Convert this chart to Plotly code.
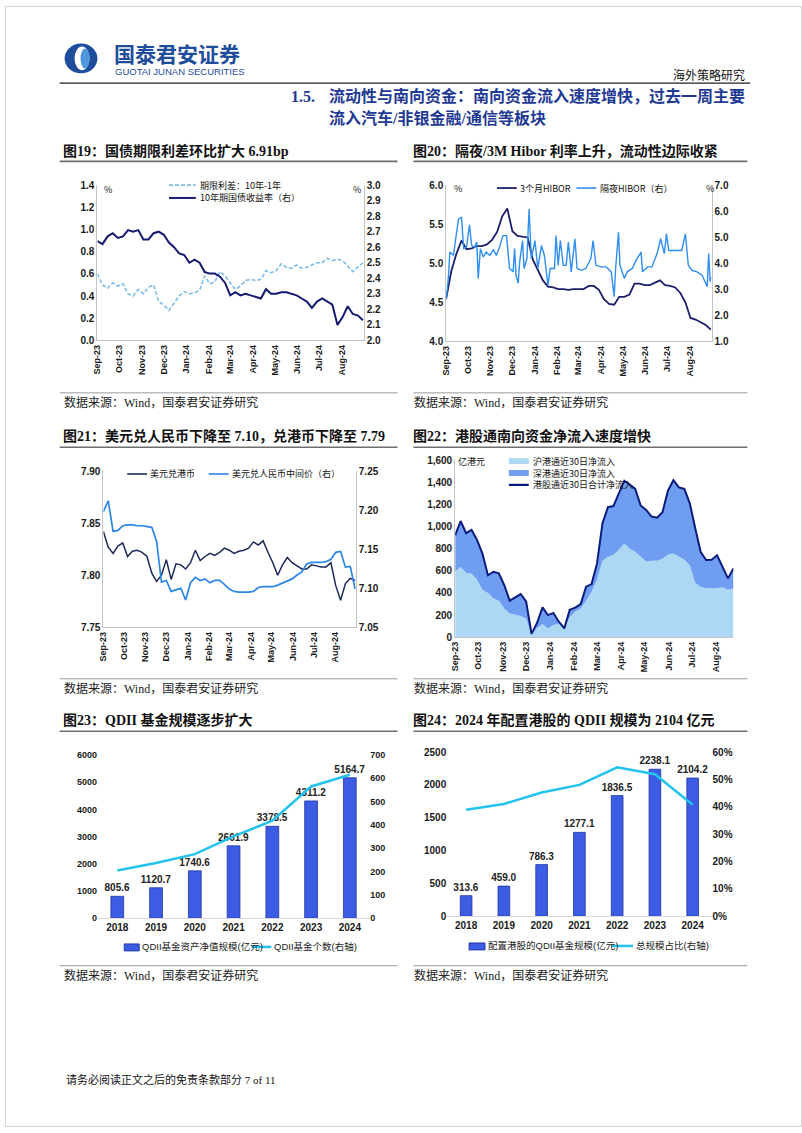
import plotly.graph_objects as go
import pandas as pd

W, H = 802, 1133

# ---------------- data ----------------
# Fig 19: term spread (left) and 10y CGB yield (right), weekly readings
c19_dates = pd.date_range("2023-09-01", periods=53, freq="7D")
c19_spread = [0.60, 0.50, 0.47, 0.52, 0.49, 0.51, 0.42, 0.40, 0.46, 0.42,
              0.48, 0.50, 0.35, 0.32, 0.27, 0.33, 0.40, 0.44, 0.42, 0.43,
              0.45, 0.58, 0.51, 0.53, 0.62, 0.58, 0.52, 0.46, 0.49, 0.54,
              0.55, 0.54, 0.55, 0.63, 0.61, 0.63, 0.69, 0.66, 0.65, 0.68,
              0.65, 0.66, 0.68, 0.70, 0.70, 0.74, 0.72, 0.73, 0.72, 0.67,
              0.62, 0.66, 0.70]
c19_yield10 = [2.64, 2.62, 2.67, 2.69, 2.66, 2.67, 2.71, 2.70, 2.71, 2.65,
               2.65, 2.69, 2.70, 2.68, 2.63, 2.60, 2.56, 2.55, 2.50, 2.52,
               2.50, 2.44, 2.43, 2.43, 2.41, 2.37, 2.29, 2.31, 2.29, 2.30,
               2.29, 2.28, 2.27, 2.33, 2.30, 2.30, 2.31, 2.31, 2.30, 2.29,
               2.27, 2.25, 2.21, 2.25, 2.27, 2.25, 2.23, 2.10, 2.15, 2.22,
               2.17, 2.16, 2.13]

# Fig 20: 3M HIBOR (left, weekly) and overnight HIBOR (right)
c20_dates = pd.date_range("2023-09-01", periods=53, freq="7D")
c20_hibor3m = [4.55, 4.90, 5.12, 5.29, 5.18, 5.19, 5.22, 5.22, 5.24, 5.30,
               5.40, 5.60, 5.70, 5.41, 5.35, 5.34, 5.33, 5.05, 4.92, 4.78,
               4.70, 4.69, 4.67, 4.67, 4.66, 4.67, 4.67, 4.67, 4.71, 4.71,
               4.66, 4.54, 4.48, 4.47, 4.57, 4.57, 4.60, 4.74, 4.74, 4.72,
               4.72, 4.75, 4.78, 4.72, 4.71, 4.69, 4.62, 4.50, 4.30, 4.28,
               4.25, 4.21, 4.15]
c20_on_dates = ["2023-09-01", "2023-09-04", "2023-09-06", "2023-09-11", "2023-09-14",
                "2023-09-18", "2023-09-22", "2023-09-25", "2023-09-29", "2023-10-03",
                "2023-10-06", "2023-10-10", "2023-10-13", "2023-10-15", "2023-10-18",
                "2023-10-22", "2023-10-26", "2023-10-31", "2023-11-05", "2023-11-09",
                "2023-11-14", "2023-11-18", "2023-11-23", "2023-11-27", "2023-12-02",
                "2023-12-04", "2023-12-06", "2023-12-09", "2023-12-11", "2023-12-15",
                "2023-12-17", "2023-12-21", "2023-12-24", "2023-12-27", "2024-01-01",
                "2024-01-05", "2024-01-10", "2024-01-14", "2024-01-19", "2024-01-22",
                "2024-01-28", "2024-01-30", "2024-02-02", "2024-02-05", "2024-02-09",
                "2024-02-13", "2024-02-16", "2024-02-20", "2024-02-25", "2024-02-28",
                "2024-03-05", "2024-03-11", "2024-03-18", "2024-03-21", "2024-03-25",
                "2024-04-01", "2024-04-08", "2024-04-15", "2024-04-19", "2024-04-21",
                "2024-04-25", "2024-04-27", "2024-05-03", "2024-05-07", "2024-05-14",
                "2024-05-19", "2024-05-26", "2024-05-28", "2024-06-04", "2024-06-10",
                "2024-06-17", "2024-06-22", "2024-06-27", "2024-06-30", "2024-07-03",
                "2024-07-12", "2024-07-21", "2024-07-26", "2024-07-30", "2024-08-04",
                "2024-08-11", "2024-08-18", "2024-08-25", "2024-08-27", "2024-08-29",
                "2024-08-30"]
c20_hibor_on = [2.60, 3.48, 4.43, 4.30, 4.94, 5.70, 5.76, 4.56, 4.62, 5.47,
                4.68, 4.62, 4.81, 3.42, 4.56, 4.24, 4.43, 4.30, 4.53, 4.30,
                4.68, 5.06, 5.06, 3.80, 3.67, 4.56, 3.54, 3.23, 4.05, 4.87,
                3.80, 4.18, 6.08, 4.18, 4.87, 3.80, 4.68, 4.30, 3.16, 3.80,
                3.80, 5.06, 3.92, 4.87, 3.92, 3.92, 4.81, 3.67, 4.94, 3.80,
                3.73, 3.80, 4.18, 4.87, 3.92, 3.86, 3.86, 3.67, 2.72, 3.80,
                5.19, 3.92, 3.42, 3.67, 3.80, 4.11, 4.43, 3.67, 3.86, 3.86,
                4.37, 4.94, 4.37, 5.13, 4.49, 4.49, 4.49, 5.13, 3.92, 3.73,
                3.67, 3.54, 3.10, 4.37, 3.29, 3.48]

# Fig 21: USD/HKD (left) and USD/CNY central parity (right), weekly
c21_dates = pd.date_range("2023-09-01", periods=53, freq="7D")
c21_usdhkd = [7.842, 7.827, 7.821, 7.828, 7.831, 7.818, 7.823, 7.824, 7.822, 7.818,
              7.802, 7.794, 7.800, 7.815, 7.796, 7.811, 7.810, 7.806, 7.812, 7.824,
              7.814, 7.818, 7.821, 7.819, 7.822, 7.826, 7.824, 7.821, 7.823, 7.824,
              7.826, 7.832, 7.829, 7.833, 7.822, 7.812, 7.800, 7.810, 7.817, 7.812,
              7.809, 7.806, 7.806, 7.810, 7.809, 7.808, 7.808, 7.812, 7.790, 7.776,
              7.792, 7.797, 7.795]
c21_usdcny = [7.198, 7.212, 7.173, 7.174, 7.180, 7.181, 7.181, 7.180, 7.180, 7.179,
              7.178, 7.160, 7.108, 7.110, 7.096, 7.098, 7.100, 7.085, 7.107, 7.114,
              7.110, 7.112, 7.107, 7.110, 7.110, 7.105, 7.099, 7.096, 7.095, 7.095,
              7.095, 7.096, 7.101, 7.102, 7.102, 7.102, 7.104, 7.107, 7.110, 7.112,
              7.117, 7.121, 7.131, 7.133, 7.133, 7.133, 7.134, 7.137, 7.146, 7.147,
              7.127, 7.128, 7.099]

# Fig 22: southbound 30-day net inflow (100m HKD), weekly
c22_dates = pd.date_range("2023-09-01", periods=52, freq="7D")
c22_sh = [592, 637, 580, 577, 520, 430, 400, 353, 330, 260,
          215, 203, 192, 170, 24, 84, 120, 80, 110, 125,
          80, 180, 230, 260, 330, 410, 520, 690, 727, 742,
          790, 846, 800, 772, 727, 685, 690, 690, 710, 745,
          757, 730, 700, 650, 490, 455, 443, 443, 445, 450,
          430, 440]
c22_total = [920, 1050, 940, 970, 880, 755, 560, 592, 577, 470,
             330, 360, 390, 323, 30, 129, 270, 200, 220, 140,
             80, 248, 268, 300, 457, 480, 667, 1030, 1175, 1185,
             1300, 1414, 1380, 1340, 1190, 1150, 1090, 1080, 1130, 1324,
             1420, 1354, 1340, 1210, 985, 770, 697, 700, 740, 640,
             532, 622]

# Fig 23 / 24
years = ["2018", "2019", "2020", "2021", "2022", "2023", "2024"]
c23_aum = [805.6, 1120.7, 1740.6, 2661.9, 3378.5, 4311.2, 5164.7]
c23_count = [205, 237, 275, 351, 418, 565, 615]
c24_hk = [313.6, 459.0, 786.3, 1277.1, 1836.5, 2238.1, 2104.2]
c24_share = [38.9, 41.0, 45.2, 48.0, 54.4, 51.9, 40.7]

# ---------------- styles ----------------
SERIF = "Liberation Serif, Noto Sans CJK SC"
CJK = "Noto Sans CJK SC"
SANS = "Liberation Sans, Noto Sans CJK SC"
NAVY = "#141b70"
LIGHT19 = "#7dbde9"
BRIGHT = "#2f8ff0"
AXC = "#c4c4c4"


def xd(l, r):
    return [l / W, r / W]


def yd(t, b):
    return [1 - b / H, 1 - t / H]


def P(x, y):
    return x / W, 1 - y / H


def tickfont(size=10):
    return dict(family=SANS, size=size, color="#1a1a1a", weight="bold")


def date_axis(l, r, anchor, start, end):
    return dict(domain=xd(l, r), anchor=anchor, type="date", range=[start, end],
                tick0="2023-09-01", dtick="M1", tickformat="%b-%y", tickangle=-90,
                tickfont=tickfont(9), showline=True, linecolor=AXC, linewidth=1,
                showgrid=False, zeroline=False, ticks="", fixedrange=True)


def val_axis(t, b, anchor, rng, dtick, fmt, side="left", overlay=None, line=True, size=10, suffix=""):
    d = dict(anchor=anchor, range=rng, dtick=dtick, tickformat=fmt, side=side,
             tickfont=tickfont(size), showline=line, linecolor=AXC, linewidth=1,
             showgrid=False, zeroline=False, ticks="", ticksuffix=suffix, fixedrange=True)
    if overlay:
        d["overlaying"] = overlay
    else:
        d["domain"] = yd(t, b)
    return d


fig = go.Figure()

# Fig 19
fig.add_trace(go.Scatter(x=c19_dates, y=c19_spread, xaxis="x", yaxis="y", mode="lines",
                         line=dict(color=LIGHT19, width=1.6, dash="4px,2px")))
fig.add_trace(go.Scatter(x=c19_dates, y=c19_yield10, xaxis="x", yaxis="y2", mode="lines",
                         line=dict(color=NAVY, width=2)))
# Fig 20
fig.add_trace(go.Scatter(x=c20_dates, y=c20_hibor3m, xaxis="x2", yaxis="y3", mode="lines",
                         line=dict(color="#1b1f6b", width=1.8)))
fig.add_trace(go.Scatter(x=pd.to_datetime(c20_on_dates), y=c20_hibor_on, xaxis="x2", yaxis="y4",
                         mode="lines", line=dict(color=BRIGHT, width=1.4)))
# Fig 21
fig.add_trace(go.Scatter(x=c21_dates, y=c21_usdhkd, xaxis="x3", yaxis="y5", mode="lines",
                         line=dict(color="#1c2a5c", width=1.5)))
fig.add_trace(go.Scatter(x=c21_dates, y=c21_usdcny, xaxis="x3", yaxis="y6", mode="lines",
                         line=dict(color="#2b86e8", width=1.7)))
# Fig 22
c22_sz = [t - s for t, s in zip(c22_total, c22_sh)]
fig.add_trace(go.Scatter(x=c22_dates, y=c22_sh, xaxis="x4", yaxis="y7", stackgroup="hk",
                         mode="none", fillcolor="#acd8f4"))
fig.add_trace(go.Scatter(x=c22_dates, y=c22_sz, xaxis="x4", yaxis="y7", stackgroup="hk",
                         mode="none", fillcolor="#6f9ef0"))
fig.add_trace(go.Scatter(x=c22_dates, y=c22_total, xaxis="x4", yaxis="y7", mode="lines",
                         line=dict(color="#0c1c7e", width=2)))
# Fig 23
BARC = "#3d5ce4"
BARL = "#2236a8"
CYAN = "#22c3ef"
LBL = dict(family=SANS, size=10, color="#222", weight="bold")
fig.add_trace(go.Bar(x=years, y=c23_aum, xaxis="x5", yaxis="y8", width=0.33,
                     marker=dict(color=BARC, line=dict(color=BARL, width=0.8)),
                     texttemplate="%{y:.1f}", textposition="outside", cliponaxis=False,
                     constraintext="none", textfont=LBL))
fig.add_trace(go.Scatter(x=years, y=c23_count, xaxis="x5", yaxis="y9", mode="lines",
                         line=dict(color=CYAN, width=2.5)))
# Fig 24
fig.add_trace(go.Bar(x=years, y=c24_hk, xaxis="x6", yaxis="y10", width=0.31,
                     marker=dict(color=BARC, line=dict(color=BARL, width=0.8)),
                     texttemplate="%{y:.1f}", textposition="outside", cliponaxis=False,
                     constraintext="none", textfont=LBL))
fig.add_trace(go.Scatter(x=years, y=c24_share, xaxis="x6", yaxis="y11", mode="lines",
                         line=dict(color=CYAN, width=2.5)))

cat_x = lambda l, r, anchor: dict(domain=xd(l, r), anchor=anchor, type="category",
                                  tickfont=tickfont(10), showline=True, linecolor="#d9d9d9",
                                  showgrid=False, zeroline=False, ticks="", fixedrange=True)

layout_axes = dict(
    xaxis=date_axis(93, 361, "y", "2023-09-01", "2024-08-31"),
    yaxis=val_axis(181, 338, "x", [0, 1.4], 0.2, ".1f"),
    yaxis2=val_axis(0, 0, "x", [2.0, 3.0], 0.1, ".1f", side="right", overlay="y"),
    xaxis2=date_axis(444, 711, "y3", "2023-09-01", "2024-08-31"),
    yaxis3=val_axis(181, 339, "x2", [4.0, 6.0], 0.5, ".1f"),
    yaxis4=val_axis(0, 0, "x2", [1.0, 7.0], 1, ".1f", side="right", overlay="y3"),
    xaxis3=date_axis(99, 353, "y5", "2023-09-01", "2024-08-31"),
    yaxis5=val_axis(470, 628, "x3", [7.75, 7.90], 0.05, ".2f"),
    yaxis6=val_axis(0, 0, "x3", [7.05, 7.25], 0.05, ".2f", side="right", overlay="y5"),
    xaxis4=date_axis(453, 733, "y7", "2023-09-01", "2024-08-23"),
    yaxis7=val_axis(459, 638, "x4", [0, 1600], 200, ","),
    xaxis5=cat_x(93.5, 366.5, "y8"),
    yaxis8=val_axis(757, 922, "x5", [0, 6000], 1000, "d", line=False, size=9),
    yaxis9=val_axis(0, 0, "x5", [0, 700], 100, "d", side="right", overlay="y8", line=False, size=9),
    xaxis6=cat_x(445, 711, "y10"),
    yaxis10=val_axis(754, 920, "x6", [0, 2500], 500, "d", line=False),
    yaxis11=val_axis(0, 0, "x6", [0, 60], 10, "d", side="right", overlay="y10", line=False, suffix="%"),
)

# ---------------- page text and decoration ----------------
ann = []
shapes = []


def txt(x, y, s, size, color="#111", family=SERIF, bold=False, xanchor="left"):
    px_, py_ = P(x, y)
    ann.append(dict(x=px_, y=py_, xref="paper", yref="paper", text=s, showarrow=False,
                    xanchor=xanchor, yanchor="middle", borderpad=0,
                    font=dict(size=size, color=color, family=family,
                              weight="bold" if bold else "normal")))


def hline(x0, x1, y, color, width, dash="solid"):
    a, b = P(x0, y)
    c, _ = P(x1, y)
    shapes.append(dict(type="line", xref="paper", yref="paper", x0=a, x1=c, y0=b, y1=b,
                       line=dict(color=color, width=width, dash=dash)))


def box(x0, y0, x1, y1, fill, kind="rect", line_color=None):
    a, b = P(x0, y0)
    c, d = P(x1, y1)
    shapes.append(dict(type=kind, xref="paper", yref="paper", x0=a, x1=c, y0=d, y1=b,
                       fillcolor=fill, line=dict(color=line_color or fill, width=0 if line_color is None else 1)))


# page border
box(0.5, 0.5, 801.5, 1132.5, "rgba(0,0,0,0)", line_color="#d6d6d6")

# logo
LOGO = "#1d4d9b"
box(60, 38, 93, 68, LOGO, kind="circle")
box(70, 41, 85, 65, "white", kind="circle")
box(76, 43, 85, 63, "#4f97dc", kind="circle")
txt(109, 47, "国泰君安证券", 21, color=LOGO, family=CJK, bold=True)
txt(110, 66, "GUOTAI JUNAN SECURITIES", 9.5, color=LOGO, family="Liberation Sans")
txt(746, 70, "海外策略研究", 12, color="#111", family=SERIF, xanchor="right")
hline(55, 750, 78, "#222", 1.3)

HEAD = "#1f3a93"
txt(287, 91, "1.5.", 16, color=HEAD, family=SERIF, bold=True)
txt(746, 91, "流动性与南向资金：南向资金流入速度增快，过去一周主要", 16, color=HEAD,
    family=SERIF, bold=True, xanchor="right")
txt(325, 113, "流入汽车/非银金融/通信等板块", 16, color=HEAD, family=SERIF, bold=True)

# titles, underlines, sources
titles = [
    (57, 147, "图19：国债期限利差环比扩大 6.91bp"),
    (410, 147, "图20：隔夜/3M Hibor 利率上升，流动性边际收紧"),
    (57, 435, "图21：美元兑人民币下降至 7.10，兑港币下降至 7.79"),
    (410, 435, "图22：港股通南向资金净流入速度增快"),
    (57, 722, "图23：QDII 基金规模逐步扩大"),
    (410, 722, "图24：2024 年配置港股的 QDII 规模为 2104 亿元"),
]
for x, y, s in titles:
    txt(x, y, s, 14, color="#111", family=SERIF, bold=True)
for y in (157, 446, 733):
    hline(55, 395, y, "#6e6e6e", 1.6)
    hline(411, 747, y, "#6e6e6e", 1.6)
for y in (391, 680, 970):
    hline(55, 395, y, "#9a9a9a", 1)
    hline(411, 747, y, "#9a9a9a", 1)
for y in (401, 690, 980):
    txt(58, y, "数据来源：Wind，国泰君安证券研究", 12, color="#222", family=SERIF)
    txt(411, y, "数据来源：Wind，国泰君安证券研究", 12, color="#222", family=SERIF)

txt(60, 1085, "请务必阅读正文之后的免责条款部分 7 of 11", 11, color="#111", family=SERIF)

# chart legends (drawn inside plots)
LEG = 9
# fig 19
hline(165, 192, 181, LIGHT19, 1.6, dash="4px,2px")
txt(195, 181, "期限利差：10年-1年", LEG, family=CJK)
hline(165, 192, 194, NAVY, 2)
txt(195, 194, "10年期国债收益率（右）", LEG, family=CJK)
txt(99, 185, "%", 9, family=CJK)
txt(349, 185, "%", 9, family=CJK)
# fig 20
hline(495, 515, 184, "#1b1f6b", 1.8)
txt(517, 184, "3个月HIBOR", LEG, family=CJK)
hline(575, 595, 184, BRIGHT, 1.6)
txt(598, 184, "隔夜HIBOR（右）", LEG, family=CJK)
txt(451, 184, "%", 9, family=CJK)
txt(704, 184, "%", 9, family=CJK)
# fig 21
hline(123, 143, 473, "#1c2a5c", 1.6)
txt(145, 473, "美元兑港币", LEG, family=CJK)
hline(205, 225, 473, "#2b86e8", 1.6)
txt(227, 473, "美元兑人民币中间价（右）", LEG, family=CJK)
# fig 22
txt(455, 460, "亿港元", LEG, family=CJK)
box(507, 457, 527, 463, "#acd8f4")
txt(530, 460, "沪港通近30日净流入", LEG, family=CJK)
box(507, 469, 527, 475, "#6f9ef0")
txt(530, 472, "深港通近30日净流入", LEG, family=CJK)
hline(507, 527, 484, "#0c1c7e", 2.2)
txt(530, 484, "港股通近30日合计净流入", LEG, family=CJK)
# fig 23
box(120, 948, 135, 955, BARC, line_color=BARL)
txt(137, 951, "QDII基金资产净值规模(亿元)", 9.5, color="#222", family=SANS)
hline(248, 268, 951, CYAN, 2.5)
txt(270, 951, "QDII基金个数(右轴)", 9.5, color="#222", family=SANS)
# fig 24
box(467, 947, 483, 954, BARC, line_color=BARL)
txt(485, 950, "配置港股的QDII基金规模(亿元)", 9.5, color="#222", family=SANS)
hline(610, 632, 950, CYAN, 2.5)
txt(634, 950, "总规模占比(右轴)", 9.5, color="#222", family=SANS)

fig.update_layout(width=W, height=H, autosize=False, margin=dict(l=0, r=0, t=0, b=0, pad=0),
                  paper_bgcolor="white", plot_bgcolor="white", showlegend=False,
                  bargap=0.6, annotations=ann, shapes=shapes, hovermode=False,
                  **layout_axes)

fig.write_html("out.html", config={"displayModeBar": False})
